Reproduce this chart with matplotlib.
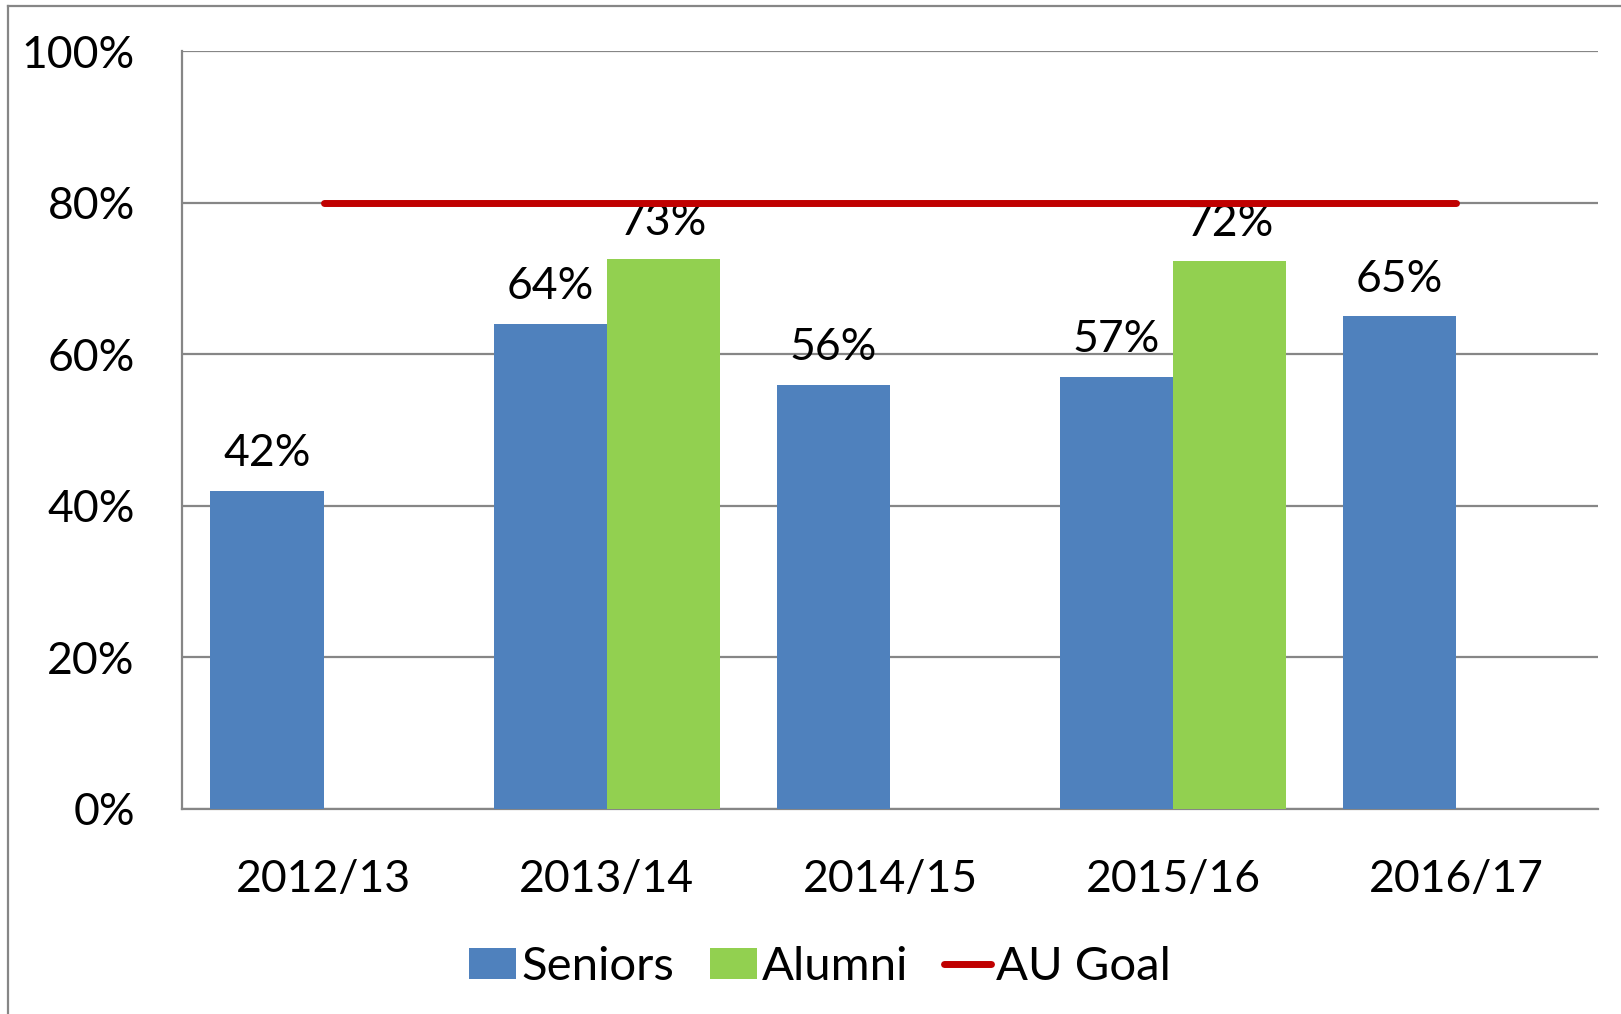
import numpy as np
import matplotlib
matplotlib.use('Agg')
import matplotlib.pyplot as plt
from matplotlib.lines import Line2D

plt.rcParams['font.family'] = ['Lato', 'DejaVu Sans']

years = ['2012/13', '2013/14', '2014/15', '2015/16', '2016/17']
seniors = [42, 64, 56, 57, 65]
alumni = [np.nan, 72.5, np.nan, 72.3, np.nan]
seniors_lbl = ['42%', '64%', '56%', '57%', '65%']
alumni_lbl = ['', '73%', '', '72%', '']
goal = [80, 80, 80, 80, 80]
yticks = [0, 20, 40, 60, 80, 100]

fig = plt.figure(figsize=(16.21, 10.14), dpi=100)
ax = fig.add_axes([0.1123, 0.2022, 0.8735, 0.7475])

x = np.arange(len(years))
w = 0.4
b1 = ax.bar(x - w/2, seniors, w, color='#4F81BD', label='Seniors', zorder=3)
b2 = ax.bar(x + w/2, alumni, w, color='#92D050', label='Alumni', zorder=3)
ln, = ax.plot(x, goal, color='#C00000', linewidth=5, solid_capstyle='round', label='AU Goal', zorder=4)

for rect, lbl in zip(b1, seniors_lbl):
    ax.annotate(lbl, (rect.get_x() + rect.get_width()/2, rect.get_height()),
                xytext=(0, 12), textcoords='offset points', ha='center', va='bottom', fontsize=32)
for rect, lbl in zip(b2, alumni_lbl):
    if lbl:
        ax.annotate(lbl, (rect.get_x() + rect.get_width()/2, rect.get_height()),
                    xytext=(0, 12), textcoords='offset points', ha='center', va='bottom', fontsize=32)

ax.set_xlim(-0.5, 4.5)
ax.set_ylim(0, 100)
ax.set_yticks(yticks)
ax.set_yticklabels([f'{t}%' for t in yticks])
ax.set_xticks(x)
ax.set_xticklabels(years)
ax.tick_params(axis='both', length=0, labelsize=32)
ax.tick_params(axis='y', pad=34)
ax.tick_params(axis='x', pad=36)
ax.yaxis.grid(True, color='#868686', linewidth=1.6, zorder=0)
ax.set_axisbelow(True)
for s in ['top', 'right']:
    ax.spines[s].set_visible(False)
for s in ['left', 'bottom']:
    ax.spines[s].set_color('#868686')
    ax.spines[s].set_linewidth(1.6)

ax.legend([b1, b2, ln], ['Seniors', 'Alumni', 'AU Goal'],
          loc='center', bbox_to_anchor=(0.506, 0.046), bbox_transform=fig.transFigure,
          ncol=3, frameon=False, fontsize=34, handlelength=1.0, handleheight=0.62,
          handletextpad=0.11, columnspacing=0.75, borderaxespad=0)

# outer frame (left and top edges only)
fig.add_artist(Line2D([0.005, 0.005], [0, 0.994], transform=fig.transFigure, color='#868686', linewidth=1.6))
fig.add_artist(Line2D([0.005, 1], [0.994, 0.994], transform=fig.transFigure, color='#868686', linewidth=1.6))

fig.savefig('out.png', dpi=100)
